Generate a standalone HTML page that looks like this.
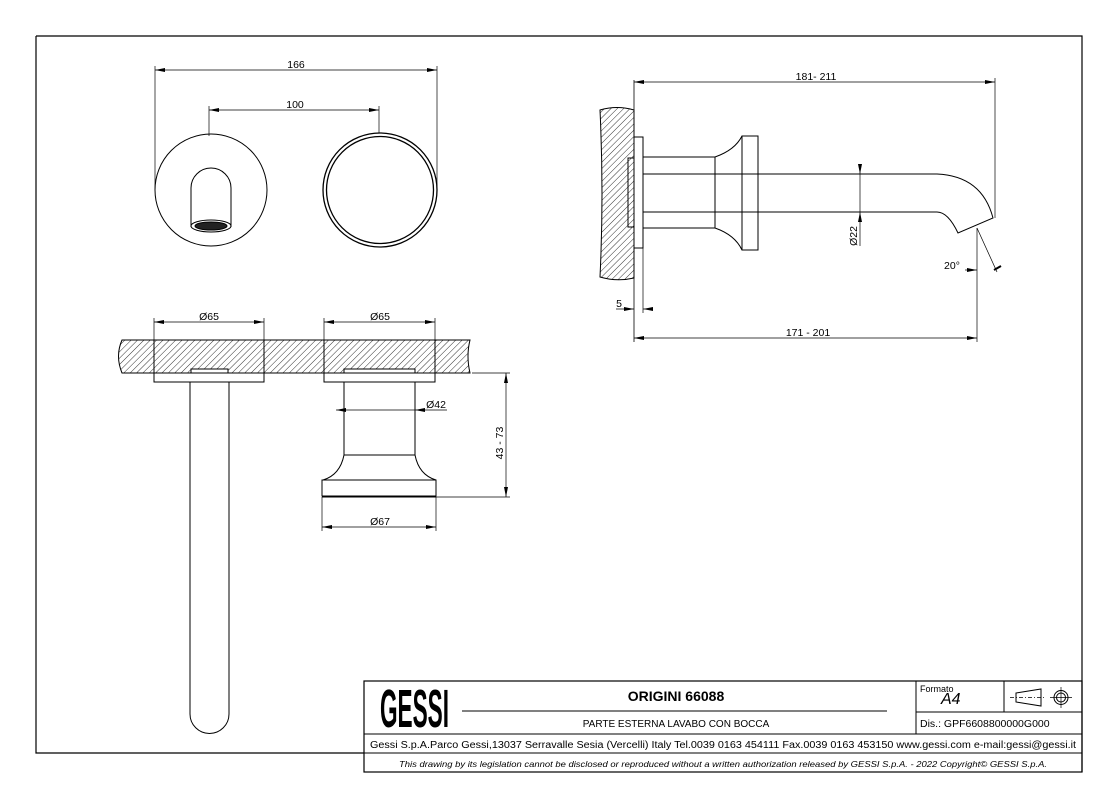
<!DOCTYPE html>
<html><head><meta charset="utf-8"><style>
html,body{margin:0;padding:0;background:#fff;width:1116px;height:787px;overflow:hidden}
svg{display:block}
text{font-family:"Liberation Sans",Arial,sans-serif;fill:#000}
</style></head><body>
<svg width="1116" height="787" viewBox="0 0 1116 787" xmlns="http://www.w3.org/2000/svg">
<defs>
<pattern id="h" width="4.5" height="4.5" patternUnits="userSpaceOnUse" patternTransform="rotate(45)">
<line x1="0" y1="0" x2="0" y2="4.5" stroke="#000" stroke-width="0.8"/>
</pattern>
<marker id="a" viewBox="0 0 10 6" refX="10" refY="3" markerWidth="10" markerHeight="6" orient="auto-start-reverse" markerUnits="userSpaceOnUse">
<path d="M0,1 L10,3 L0,5 z" fill="#000"/>
</marker>
</defs>
<g fill="none" stroke="#000" stroke-width="1">
<path d="M36,36 H1082 V772 M36,36 V753 H364" stroke-width="1.2"/>
<rect x="364" y="681" width="718" height="91" stroke-width="1.2"/>
<line x1="364" y1="734" x2="1082" y2="734"/>
<line x1="364" y1="753" x2="1082" y2="753"/>
<line x1="916" y1="681" x2="916" y2="734"/>
<line x1="916" y1="712" x2="1082" y2="712"/>
<line x1="1004" y1="681" x2="1004" y2="712"/>
<line x1="462" y1="711" x2="887" y2="711"/>
<path d="M1016,693 L1041,689 V706 L1016,702 Z"/>
<line x1="1010" y1="697.5" x2="1046" y2="697.5" stroke-dasharray="4,2,1,2" stroke-width="0.7"/>
<circle cx="1061" cy="697.5" r="7"/><circle cx="1061" cy="697.5" r="4.5"/>
<line x1="1050" y1="697.5" x2="1072" y2="697.5" stroke-width="0.7"/>
<line x1="1061" y1="687" x2="1061" y2="708" stroke-width="0.7"/>

<circle cx="211" cy="190" r="56"/>
<path d="M191,227 V188 A20,20 0 0 1 231,188 V227"/>
<ellipse cx="211" cy="226" rx="20" ry="6"/>
<ellipse cx="211" cy="226" rx="16" ry="4" fill="#222"/>
<circle cx="380" cy="190" r="57" stroke-width="1.3"/>
<circle cx="380" cy="190" r="53.5" stroke-width="1.3"/>
<line x1="155" y1="66" x2="155" y2="190" stroke-width="0.7"/>
<line x1="437" y1="66" x2="437" y2="190" stroke-width="0.7"/>
<line x1="155" y1="70" x2="437" y2="70" stroke-width="0.7" marker-start="url(#a)" marker-end="url(#a)"/>
<line x1="209" y1="106" x2="209" y2="136" stroke-width="0.7"/>
<line x1="379" y1="106" x2="379" y2="133" stroke-width="0.7"/>
<line x1="209" y1="110" x2="379" y2="110" stroke-width="0.7" marker-start="url(#a)" marker-end="url(#a)"/>

<path d="M122,340 H470 Q466,356 470,373 H122 Q115,356 122,340 Z" fill="url(#h)"/>
<rect x="191" y="369" width="37" height="4" fill="#fff"/>
<rect x="344" y="369" width="71" height="4" fill="#fff"/>
<line x1="154" y1="340" x2="154" y2="373"/><line x1="264" y1="340" x2="264" y2="373"/>
<line x1="324" y1="340" x2="324" y2="373"/><line x1="435" y1="340" x2="435" y2="373"/>
<rect x="154" y="373" width="110" height="9"/>
<rect x="324" y="373" width="111" height="9"/>
<path d="M190,382 V714 A19.5,19.5 0 0 0 229,714 V382"/>
<path d="M344,382 V455 H415 V382"/>
<path d="M344,455 Q340,475 323,480 M415,455 Q419,475 436,480"/>
<rect x="322" y="480" width="114" height="16"/>
<line x1="322" y1="497" x2="436" y2="497"/>
<g stroke-width="0.7">
<line x1="154" y1="318" x2="154" y2="340"/><line x1="264" y1="318" x2="264" y2="340"/>
<line x1="154" y1="322" x2="264" y2="322" marker-start="url(#a)" marker-end="url(#a)"/>
<line x1="324" y1="318" x2="324" y2="340"/><line x1="435" y1="318" x2="435" y2="340"/>
<line x1="324" y1="322" x2="435" y2="322" marker-start="url(#a)" marker-end="url(#a)"/>
<line x1="336" y1="410" x2="344" y2="410" marker-start="url(#a)"/>
<line x1="344" y1="410" x2="415" y2="410"/>
<line x1="415" y1="410" x2="447" y2="410" marker-start="url(#a)"/>
<line x1="322" y1="497" x2="322" y2="531"/><line x1="436" y1="497" x2="436" y2="531"/>
<line x1="322" y1="527" x2="436" y2="527" marker-start="url(#a)" marker-end="url(#a)"/>
<line x1="472" y1="373" x2="510" y2="373"/><line x1="436" y1="497" x2="510" y2="497"/>
<line x1="506" y1="373" x2="506" y2="497" marker-start="url(#a)" marker-end="url(#a)"/>
</g>

<path d="M600,110 Q617,105 634,110 V278 Q617,282 600,277 Q604,194 600,110 Z" fill="url(#h)"/>
<line x1="634" y1="80" x2="634" y2="342" stroke-width="0.8"/>
<rect x="634" y="137" width="9" height="111"/>
<rect x="628" y="158" width="6" height="69"/>
<path d="M643,157 H715 M643,228 H715"/>
<path d="M715,157 V228 M715,157 Q735,150 742,136 M715,228 Q735,235 742,250"/>
<rect x="742" y="136" width="16" height="114"/>
<path d="M643,174 H937 Q982,176 993,218 L958,233 Q948,212 937,212 H643"/>
<g stroke-width="0.7">
<line x1="634" y1="82" x2="995" y2="82" marker-start="url(#a)" marker-end="url(#a)"/>
<line x1="995" y1="78" x2="995" y2="218"/>
<line x1="634" y1="338" x2="977" y2="338" marker-start="url(#a)" marker-end="url(#a)"/>
<line x1="977" y1="228" x2="977" y2="342"/>
<line x1="977" y1="228" x2="997" y2="272"/>
<line x1="965" y1="270" x2="977" y2="270" marker-end="url(#a)"/>
<line x1="994" y1="270" x2="1001" y2="266" stroke-width="2"/>
<line x1="860" y1="166" x2="860" y2="174" marker-end="url(#a)"/>
<line x1="860" y1="174" x2="860" y2="212"/>
<line x1="860" y1="246" x2="860" y2="212" marker-end="url(#a)"/>
<line x1="643" y1="248" x2="643" y2="313"/>
<line x1="616" y1="309" x2="634" y2="309" marker-end="url(#a)"/>
<line x1="651" y1="309" x2="643" y2="309" marker-end="url(#a)"/>
</g>
</g>

<g font-size="10.5">
<text x="296" y="68" text-anchor="middle">166</text>
<text x="295" y="108" text-anchor="middle">100</text>
<text x="209" y="320" text-anchor="middle">Ø65</text>
<text x="380" y="320" text-anchor="middle">Ø65</text>
<text x="436" y="408" text-anchor="middle">Ø42</text>
<text x="380" y="525" text-anchor="middle">Ø67</text>
<text transform="translate(503,443) rotate(-90)" text-anchor="middle">43 - 73</text>
<text x="816" y="80" text-anchor="middle">181- 211</text>
<text x="808" y="336" text-anchor="middle">171 - 201</text>
<text transform="translate(857,236) rotate(-90)" text-anchor="middle">Ø22</text>
<text x="952" y="269" text-anchor="middle">20°</text>
<text x="619" y="307" text-anchor="middle">5</text>
</g>

<text transform="scale(1,1.5)" x="380" y="484.7" font-size="36" font-weight="bold" textLength="69" lengthAdjust="spacingAndGlyphs">GESSI</text>
<text x="676" y="701" font-size="14" font-weight="bold" text-anchor="middle">ORIGINI 66088</text>
<text x="676" y="727" font-size="10" text-anchor="middle">PARTE ESTERNA LAVABO CON BOCCA</text>
<text x="920" y="692" font-size="9">Formato</text>
<text x="941" y="704" font-size="16" font-style="italic">A4</text>
<text x="920" y="727" font-size="10.5">Dis.: GPF6608800000G000</text>
<text x="723" y="748" font-size="10" text-anchor="middle" textLength="706" lengthAdjust="spacingAndGlyphs">Gessi S.p.A.Parco Gessi,13037 Serravalle Sesia (Vercelli) Italy Tel.0039 0163 454111 Fax.0039 0163 453150 www.gessi.com e-mail:gessi@gessi.it</text>
<text x="723" y="767" font-size="8.5" font-style="italic" text-anchor="middle" textLength="648" lengthAdjust="spacingAndGlyphs">This drawing by its legislation cannot be disclosed or reproduced without a written authorization released by GESSI S.p.A. - 2022 Copyright© GESSI S.p.A.</text>
</svg>
</body></html>
